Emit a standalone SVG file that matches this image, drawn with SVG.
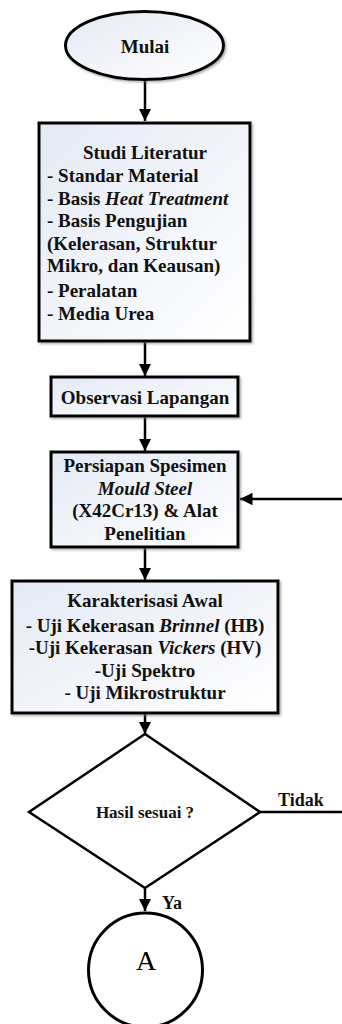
<svg xmlns="http://www.w3.org/2000/svg" width="342" height="1024" viewBox="0 0 342 1024">
<defs>
<linearGradient id="g" x1="0" y1="0" x2="1" y2="1">
<stop offset="0" stop-color="#e4e9f4"/>
<stop offset="1" stop-color="#ffffff"/>
</linearGradient>
<marker id="ah" viewBox="0 0 10 10" refX="10" refY="5" markerWidth="5" markerHeight="5" markerUnits="strokeWidth" orient="auto">
<path d="M0,0 L10,5 L0,10 z" fill="#000"/>
</marker>
<filter id="sh" x="-10%" y="-10%" width="120%" height="120%">
<feDropShadow dx="1.5" dy="1.5" stdDeviation="1" flood-color="#777" flood-opacity="0.6"/>
</filter>
</defs>
<style>
.box{fill:url(#g);stroke:#000;stroke-width:3;filter:url(#sh)}
.t{font-family:'Liberation Serif','Times New Roman',serif;font-weight:bold;font-size:19px;fill:#111}
.c{text-anchor:middle}
.e{stroke:#000;stroke-width:2.5;fill:none;marker-end:url(#ah)}
.l{stroke:#000;stroke-width:2.5;fill:none}
</style>
<g id="connectors">
<line class="e" x1="145" y1="80" x2="145" y2="121"/>
<line class="e" x1="145" y1="342" x2="145" y2="376"/>
<line class="e" x1="145" y1="417" x2="145" y2="451"/>
<line class="e" x1="342" y1="499" x2="240" y2="499"/>
<line class="e" x1="145" y1="548" x2="145" y2="580"/>
<line class="e" x1="145" y1="714" x2="145" y2="734"/>
<line class="l" x1="260" y1="812" x2="342" y2="812"/>
<line class="e" x1="145" y1="888" x2="145" y2="911"/>
<text class="t" x="278" y="806" style="font-size:18px">Tidak</text>
<text class="t" x="162" y="909" style="font-size:18px">Ya</text>
</g>
<g id="mulai">
<ellipse class="box" cx="144.5" cy="45.5" rx="79" ry="34"/>
<text class="t c" x="145" y="53">Mulai</text>
</g>
<g id="studi">
<rect class="box" x="39" y="123" width="211" height="218"/>
<text class="t c" x="145" y="159">Studi Literatur</text>
<text class="t" x="47" y="182">- Standar Material</text>
<text class="t" x="47" y="205">- Basis <tspan font-style="italic">Heat Treatment</tspan></text>
<text class="t" x="47" y="227">- Basis Pengujian</text>
<text class="t" x="47" y="250">(Kelerasan, Struktur</text>
<text class="t" x="47" y="272">Mikro, dan Keausan)</text>
<text class="t" x="47" y="297">- Peralatan</text>
<text class="t" x="47" y="320">- Media Urea</text>
</g>
<g id="observasi">
<rect class="box" x="51" y="377" width="187" height="39"/>
<text class="t c" x="145" y="404">Observasi Lapangan</text>
</g>
<g id="persiapan">
<rect class="box" x="51" y="452" width="187" height="95"/>
<text class="t c" x="145" y="472">Persiapan Spesimen</text>
<text class="t c" x="145" y="495" font-style="italic">Mould Steel</text>
<text class="t c" x="145" y="517">(X42Cr13) &amp; Alat</text>
<text class="t c" x="145" y="540">Penelitian</text>
</g>
<g id="karakterisasi">
<rect class="box" x="12" y="581" width="266" height="132"/>
<text class="t c" x="145" y="607">Karakterisasi Awal</text>
<text class="t c" x="145" y="632">- Uji Kekerasan <tspan font-style="italic">Brinnel</tspan> (HB)</text>
<text class="t c" x="145" y="654">-Uji Kekerasan <tspan font-style="italic">Vickers</tspan> (HV)</text>
<text class="t c" x="145" y="677">-Uji Spektro</text>
<text class="t c" x="145" y="699">- Uji Mikrostruktur</text>
</g>
<g id="keputusan">
<polygon points="145,734 260,812 145,888 29,812" fill="#fff" stroke="#000" stroke-width="2.5"/>
<text class="t c" x="145" y="818" style="font-size:17px">Hasil sesuai ?</text>
</g>
<g id="konektorA">
<circle cx="145.5" cy="970" r="57" fill="#fff" stroke="#000" stroke-width="3"/>
<text x="146" y="970" text-anchor="middle" font-family="'Liberation Serif', serif" font-size="28" fill="#000">A</text>
</g>
</svg>
